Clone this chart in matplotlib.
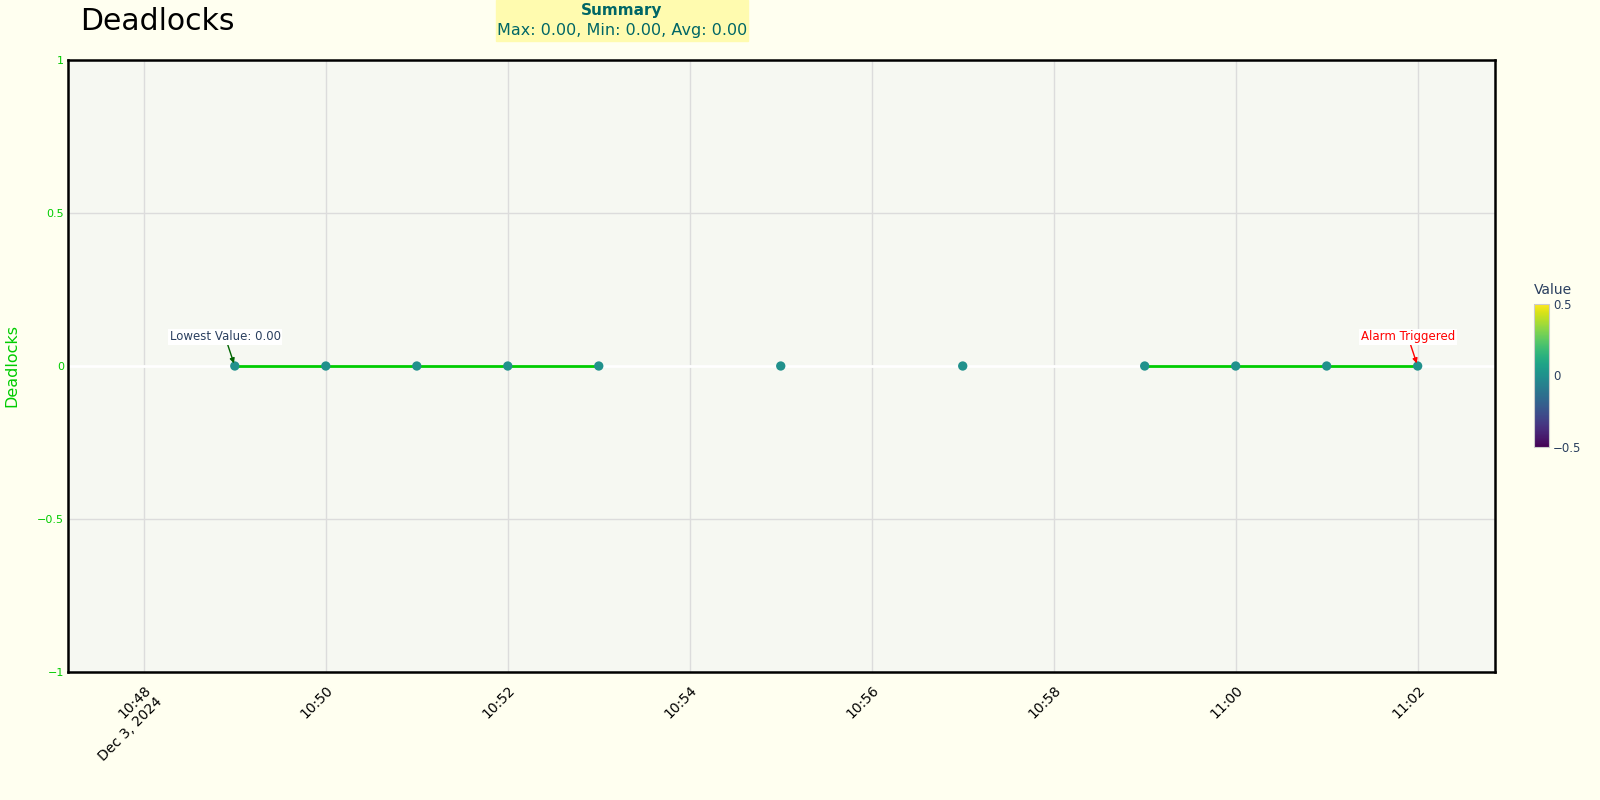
import numpy as np
import pandas as pd
import matplotlib
matplotlib.use("Agg")
import matplotlib.pyplot as plt
from matplotlib.colors import Normalize

# data
times = pd.date_range("2024-12-03 10:49", "2024-12-03 11:02", freq="1min")
values = [0, 0, 0, 0, 0, None, 0, None, 0, None, 0, 0, 0, 0]
y_ticks = [-1, -0.5, 0, 0.5, 1]
y_tick_labels = ["\u22121", "\u22120.5", "0", "0.5", "1"]
x_ticks = pd.date_range("2024-12-03 10:48", "2024-12-03 11:02", freq="2min")
x_tick_labels = ["10:48\nDec 3, 2024", "10:50", "10:52", "10:54", "10:56", "10:58", "11:00", "11:02"]
summary = "Max: 0.00, Min: 0.00, Avg: 0.00"

bg = "#FFFFF0"
plot_bg = "#F6F8F2"
green = "#00CC00"
teal = "#006666"

vals = np.array([np.nan if v is None else v for v in values], dtype=float)
norm = Normalize(-0.5, 0.5)
cmap = plt.get_cmap("viridis")

fig = plt.figure(figsize=(16, 8), dpi=100, facecolor=bg)
ax = fig.add_axes([68/1600, 128/800, 1427/1600, 612/800])
ax.set_facecolor(plot_bg)

ax.plot(times, vals, color=green, lw=2, zorder=3)
ok = ~np.isnan(vals)
ax.scatter(times[ok], vals[ok], c=vals[ok], cmap=cmap, norm=norm, s=45, zorder=4, linewidths=0)

ax.axhline(0, color="white", lw=2, zorder=1)
ax.set_ylim(-1, 1)
x0 = pd.Timestamp("2024-12-03 10:48") - pd.Timedelta(seconds=50)
x1 = pd.Timestamp("2024-12-03 11:02") + pd.Timedelta(seconds=51)
ax.set_xlim(x0, x1)

ax.set_yticks(y_ticks)
ax.set_yticklabels(y_tick_labels, color=green, fontsize=8)
ax.set_xticks(x_ticks)
ax.set_xticklabels(x_tick_labels, rotation=45, ha="right", rotation_mode="anchor",
                   multialignment="right", fontsize=10, color="black")
ax.tick_params(axis="both", length=0, pad=3)
ax.tick_params(axis="x", pad=8)
ax.grid(True, color="#DCDCDC", lw=1, zorder=0)
ax.set_axisbelow(True)
for s in ax.spines.values():
    s.set_linewidth(1.8)
    s.set_color("black")

fig.text(12/1600, 1 - 365/800, "Deadlocks", rotation=90, color=green, fontsize=11.5,
         ha="center", va="center")
fig.text(80/1600, 1 - 21/800, "Deadlocks", fontsize=21.5, ha="left", va="center")

# summary box
fig.patches.append(plt.Rectangle((496/1600, 1 - 41/800), 252/1600, 41/800,
                                 transform=fig.transFigure, color="#FFFBAF", zorder=0))
fig.text(622/1600, 1 - 10/800, "Summary", color=teal, fontsize=11, fontweight="bold",
         ha="center", va="center")
fig.text(622/1600, 1 - 30/800, summary, color=teal, fontsize=11.5, ha="center", va="center")

# annotations
ax.annotate("Lowest Value: 0.00", xy=(times[0], vals[0]), xytext=(-7, 21),
            textcoords="offset points", ha="center", va="center", fontsize=8.5,
            color="#2a3f5f", bbox=dict(boxstyle="square,pad=0.15", fc="white", ec="none"),
            arrowprops=dict(arrowstyle="-|>", color="darkgreen", lw=1, shrinkA=0, shrinkB=2,
                            mutation_scale=7), zorder=5)
ax.annotate("Alarm Triggered", xy=(times[-1], vals[-1]), xytext=(-7, 21),
            textcoords="offset points", ha="center", va="center", fontsize=8.5,
            color="red", bbox=dict(boxstyle="square,pad=0.15", fc="white", ec="none"),
            arrowprops=dict(arrowstyle="-|>", color="red", lw=1, shrinkA=0, shrinkB=2,
                            mutation_scale=7), zorder=5)

# colorbar
cax = fig.add_axes([1534/1600, 1 - 447/800, 15/1600, 143/800])
sm = matplotlib.cm.ScalarMappable(norm=norm, cmap=cmap)
cb = fig.colorbar(sm, cax=cax)
cb.set_ticks([-0.5, 0, 0.5])
cb.set_ticklabels(["\u22120.5", "0", "0.5"])
cb.ax.tick_params(length=0, labelsize=8.5, labelcolor="#2a3f5f", pad=3)
cb.outline.set_edgecolor("#cccccc")
cax.set_title("Value", fontsize=10, color="#2a3f5f", pad=7, loc="left")

fig.savefig("out.png", dpi=100, facecolor=bg)
